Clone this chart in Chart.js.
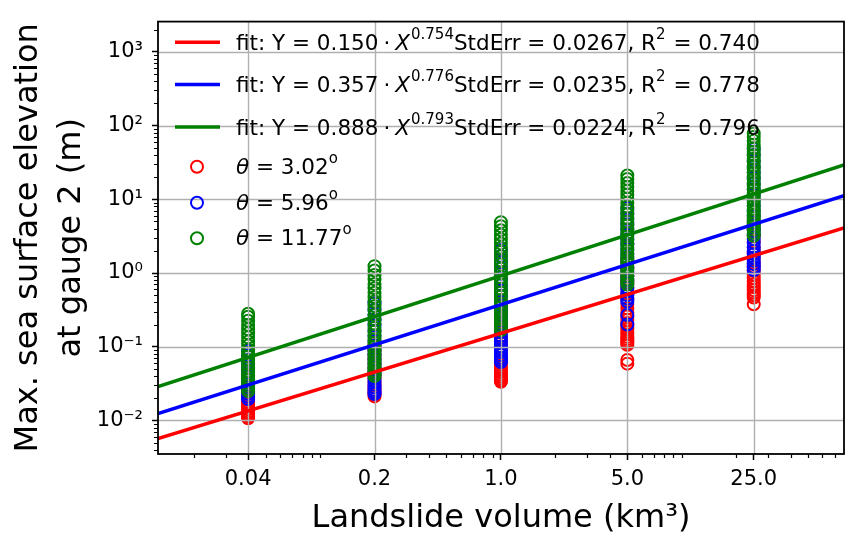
<!DOCTYPE html>
<html>
<head>
<meta charset="utf-8">
<script src="https://cdn.jsdelivr.net/npm/chart.js@4.4.1/dist/chart.umd.min.js"></script>
<style>
  html, body { margin: 0; padding: 0; background: #fff; }
  #wrap { width: 852px; height: 538px; position: relative; }
</style>
</head>
<body>
<div id="wrap"><canvas id="chart"></canvas></div>
<script>
// landslide volumes (km^3), one column of points per volume
const volumes = [0.04, 0.2, 1.0, 5.0, 25.0]
const xTicks = [0.04, 0.2, 1.0, 5.0, 25.0]
const xTickLabels = ['0.04', '0.2', '1.0', '5.0', '25.0']
const yTicks = [0.01, 0.1, 1, 10, 100, 1000]
const yTickLabels = ['10⁻²', '10⁻¹', '10⁰', '10¹', '10²', '10³']

// max sea surface elevation (m), theta = 3.02
const theta302 = [
	[0.0107, 0.0112, 0.0118, 0.0125, 0.0133, 0.0142, 0.0152, 0.0164, 0.0177, 0.0192, 0.021, 0.023, 0.026, 0.029],
	[0.0212, 0.0225, 0.024, 0.0258, 0.028, 0.0305, 0.0335, 0.037, 0.041, 0.046, 0.052, 0.059, 0.068, 0.078, 0.09, 0.104],
	[0.0335, 0.0352, 0.0372, 0.0395, 0.042, 0.045, 0.0485, 0.0525, 0.057, 0.063, 0.07, 0.078, 0.088, 0.1, 0.115, 0.133, 0.155, 0.18, 0.21, 0.25, 0.3, 0.36],
	[0.059, 0.066, 0.106, 0.112, 0.119, 0.127, 0.136, 0.147, 0.159, 0.173, 0.19, 0.21, 0.232, 0.258, 0.29, 0.33, 0.38, 0.44, 0.52, 0.62, 0.75, 0.92, 1.15, 1.45],
	[0.376, 0.465, 0.5, 0.54, 0.585, 0.64, 0.7, 0.77, 0.85, 0.95, 1.06, 1.2, 1.37, 1.58, 1.85, 2.2, 2.65, 3.2, 3.9, 4.8]
]
// theta = 5.96
const theta596 = [
	[0.0195, 0.021, 0.0228, 0.0248, 0.027, 0.0295, 0.0325, 0.036, 0.04, 0.045, 0.051, 0.058, 0.066, 0.076, 0.088],
	[0.0228, 0.0243, 0.026, 0.028, 0.0305, 0.0335, 0.037, 0.041, 0.046, 0.052, 0.059, 0.067, 0.077, 0.089, 0.103, 0.12, 0.14, 0.165, 0.195, 0.23, 0.27, 0.32, 0.39],
	[0.062, 0.066, 0.071, 0.077, 0.084, 0.092, 0.101, 0.112, 0.125, 0.14, 0.158, 0.18, 0.205, 0.235, 0.27, 0.31, 0.36, 0.42, 0.49, 0.58, 0.69, 0.82, 0.98, 1.17, 1.4, 1.7, 2.05],
	[0.2, 0.27, 0.41, 0.45, 0.5, 0.56, 0.63, 0.71, 0.8, 0.91, 1.04, 1.19, 1.37, 1.58, 1.83, 2.12, 2.46, 2.86, 3.33, 3.9, 4.6, 5.4, 6.4, 7.6],
	[1.1, 1.2, 1.32, 1.46, 1.62, 1.8, 2.0, 2.25, 2.55, 2.9, 3.3, 3.8, 4.4, 5.1, 6.0, 7.0, 8.2, 9.7, 11.5, 13.6, 16.2, 19.3, 23, 27.5, 33, 40, 48]
]
// theta = 11.77
const theta1177 = [
	[0.025, 0.027, 0.0295, 0.0322, 0.0353, 0.0388, 0.0428, 0.0473, 0.0525, 0.0585, 0.065, 0.073, 0.082, 0.092, 0.104, 0.118, 0.134, 0.152, 0.173, 0.197, 0.225, 0.255, 0.28],
	[0.04, 0.043, 0.0465, 0.0505, 0.055, 0.06, 0.066, 0.073, 0.081, 0.09, 0.1, 0.112, 0.126, 0.142, 0.16, 0.18, 0.205, 0.235, 0.27, 0.31, 0.355, 0.41, 0.47, 0.54, 0.62, 0.71, 0.82, 0.94, 1.08, 1.24],
	[0.168, 0.18, 0.195, 0.212, 0.232, 0.255, 0.28, 0.31, 0.345, 0.385, 0.43, 0.48, 0.54, 0.61, 0.69, 0.78, 0.88, 1.0, 1.14, 1.3, 1.48, 1.69, 1.93, 2.2, 2.52, 2.88, 3.3, 3.8, 4.3, 4.9],
	[0.7, 0.76, 0.83, 0.91, 1.0, 1.1, 1.21, 1.34, 1.48, 1.64, 1.82, 2.02, 2.25, 2.5, 2.8, 3.12, 3.5, 3.92, 4.4, 4.95, 5.55, 6.25, 7.05, 7.95, 9.0, 10.2, 11.5, 13.0, 14.7, 16.6, 18.8, 21],
	[3.2, 3.5, 3.85, 4.2, 4.6, 5.05, 5.55, 6.1, 6.7, 7.4, 8.15, 9.0, 9.95, 11, 12.2, 13.5, 15, 16.7, 18.6, 20.7, 23, 25.6, 28.5, 31.8, 35.5, 39.6, 44.2, 49.3, 55, 62, 70, 78]
]

// fit lines, end points read at the plot edges
const fitX = [0.0127, 78.9]
const fitRed = [0.0057, 4.1]
const fitBlue = [0.0124, 11.2]
const fitGreen = [0.0288, 29.2]

// legend texts
const fitCoef = ['0.150', '0.357', '0.888']
const fitExp = ['0.754', '0.776', '0.793']
const fitStdErr = ['0.0267', '0.0235', '0.0224']
const fitR2 = ['0.740', '0.778', '0.796']
const thetaLabels = ['3.02', '5.96', '11.77']

const RED = '#ff0000', BLUE = '#0000ff', GREEN = '#008000'
const FONT = '"DejaVu Sans", sans-serif'
const X_MIN = 0.0127, X_MAX = 78.9
const Y_MIN = 0.00351, Y_MAX = 2570

function columns(series) {
	var pts = []
	series.forEach((col, i) => col.forEach(v => pts.push({x: volumes[i], y: v})))
	return pts
}

function fitLine(ys) {
	return fitX.map((x, i) => ({x: x, y: ys[i]}))
}

function scatterSet(label, series, color, order) {
	return {
		label: label,
		data: columns(series),
		showLine: false,
		pointStyle: 'circle',
		pointRadius: 6,
		pointHoverRadius: 6,
		pointBorderWidth: 2,
		pointBackgroundColor: 'rgba(0,0,0,0)',
		borderColor: color,
		backgroundColor: 'rgba(0,0,0,0)',
		order: order
	}
}

function lineSet(label, ys, color, order) {
	return {
		label: label,
		data: fitLine(ys),
		showLine: true,
		pointRadius: 0,
		borderWidth: 3.5,
		borderColor: color,
		backgroundColor: color,
		tension: 0,
		order: order
	}
}

// draws a run of text pieces, some italic, some raised
function drawRich(ctx, x, y, parts) {
	parts.forEach(p => {
		x += p.pre || 0
		var size = p.sup ? 15 : 21.5
		ctx.font = (p.it ? 'italic ' : '') + size + 'px ' + FONT
		ctx.fillText(p.t, x, p.sup ? y - 11 : y)
		x += ctx.measureText(p.t).width + (p.post || 0)
	})
}

const decorPlugin = {
	id: 'decor',
	// gridlines sit above the markers but below the fit lines
	afterDatasetDraw(chart, args) {
		if (args.index !== 3) return
		const {ctx, chartArea: a, scales: {x, y}} = chart
		ctx.save()
		ctx.strokeStyle = '#b0b0b0'
		ctx.lineWidth = 1.4
		ctx.beginPath()
		xTicks.forEach(v => {
			var px = Math.round(x.getPixelForValue(v)) + 0.5
			ctx.moveTo(px, a.top); ctx.lineTo(px, a.bottom)
		})
		yTicks.forEach(v => {
			var py = Math.round(y.getPixelForValue(v)) + 0.5
			ctx.moveTo(a.left, py); ctx.lineTo(a.right, py)
		})
		ctx.stroke()
		ctx.restore()
	},
	afterDraw(chart) {
		const {ctx, chartArea: a, scales: {x, y}} = chart
		ctx.save()
		// minor ticks
		ctx.strokeStyle = '#000'
		ctx.lineWidth = 1.2
		ctx.beginPath()
		for (var k = -3; k <= 3; k++) {
			for (var m = 1; m <= 9; m++) {
				var v = m * Math.pow(10, k)
				if (v > X_MIN && v < X_MAX && xTicks.indexOf(+v.toPrecision(6)) < 0) {
					var px = Math.round(x.getPixelForValue(v)) + 0.5
					ctx.moveTo(px, a.bottom); ctx.lineTo(px, a.bottom + 4)
				}
				if (m > 1 && v > Y_MIN && v < Y_MAX) {
					var py = Math.round(y.getPixelForValue(v)) + 0.5
					ctx.moveTo(a.left, py); ctx.lineTo(a.left - 4, py)
				}
			}
		}
		ctx.stroke()
		// frame
		ctx.lineWidth = 1.8
		ctx.strokeRect(a.left, a.top, a.right - a.left, a.bottom - a.top)

		// legend
		ctx.fillStyle = '#000'
		ctx.textAlign = 'left'
		ctx.textBaseline = 'alphabetic'
		const lineColors = [RED, BLUE, GREEN]
		const lineRows = [42.3, 84.5, 127]
		lineRows.forEach((ry, i) => {
			ctx.strokeStyle = lineColors[i]
			ctx.lineWidth = 3.5
			ctx.beginPath()
			ctx.moveTo(175, ry); ctx.lineTo(220, ry)
			ctx.stroke()
			ctx.fillStyle = '#000'
			drawRich(ctx, 236, ry + 7.7, [
				{t: 'fit: Y = ' + fitCoef[i]},
				{t: '·', pre: 5, post: 5},
				{t: 'X', it: true, post: 1},
				{t: fitExp[i], sup: true},
				{t: 'StdErr = ' + fitStdErr[i] + ', R'},
				{t: '2', sup: true, post: 1},
				{t: ' = ' + fitR2[i]}
			])
		})
		const dotRows = [166.7, 202.7, 238.3]
		dotRows.forEach((ry, i) => {
			ctx.strokeStyle = lineColors[i]
			ctx.lineWidth = 2
			ctx.beginPath()
			ctx.arc(197, ry, 6, 0, Math.PI * 2)
			ctx.stroke()
			ctx.fillStyle = '#000'
			drawRich(ctx, 236, ry + 7, [
				{t: 'θ', it: true},
				{t: ' = ' + thetaLabels[i]},
				{t: 'o', sup: true}
			])
		})
		ctx.restore()
	}
}

Chart.defaults.font.family = FONT
Chart.defaults.color = '#000'

new Chart(document.getElementById('chart'), {
	type: 'scatter',
	data: {
		datasets: [
			lineSet('fit red', fitRed, RED, 2),
			lineSet('fit blue', fitBlue, BLUE, 1),
			lineSet('fit green', fitGreen, GREEN, 0),
			scatterSet('θ = 11.77°', theta1177, GREEN, 3),
			scatterSet('θ = 5.96°', theta596, BLUE, 4),
			scatterSet('θ = 3.02°', theta302, RED, 5)
		]
	},
	options: {
		responsive: true,
		maintainAspectRatio: false,
		devicePixelRatio: 1,
		animation: false,
		events: [],
		layout: {padding: {left: 0, right: 2, top: 7, bottom: 0}},
		plugins: {legend: {display: false}, tooltip: {enabled: false}},
		scales: {
			x: {
				type: 'logarithmic',
				min: X_MIN,
				max: X_MAX,
				afterBuildTicks: s => { s.ticks = xTicks.map(v => ({value: v})) },
				afterFit: s => { s.height = 84 },
				ticks: {
					callback: (v, i) => xTickLabels[i],
					font: {size: 21},
					color: '#000',
					padding: 7,
					maxRotation: 0,
					autoSkip: false
				},
				grid: {display: true, drawOnChartArea: false, drawTicks: true, tickLength: 6, tickWidth: 1.5, tickColor: '#000'},
				border: {display: false},
				title: {display: true, text: 'Landslide volume (km³)', font: {size: 32, lineHeight: 1.2}, color: '#000', padding: {top: 0, bottom: 0}}
			},
			y: {
				type: 'logarithmic',
				min: Y_MIN,
				max: Y_MAX,
				afterBuildTicks: s => { s.ticks = yTicks.map(v => ({value: v})) },
				afterFit: s => { s.width = 158 },
				ticks: {
					callback: (v, i) => yTickLabels[i],
					font: {size: 21},
					color: '#000',
					padding: 9,
					autoSkip: false
				},
				grid: {display: true, drawOnChartArea: false, drawTicks: true, tickLength: 6, tickWidth: 1.5, tickColor: '#000'},
				border: {display: false},
				title: {display: true, text: ['Max. sea surface elevation', 'at gauge 2 (m)'], font: {size: 32, lineHeight: 1.35}, color: '#000', padding: {top: 7, bottom: 0}}
			}
		}
	},
	plugins: [decorPlugin]
})
</script>
</body>
</html>
